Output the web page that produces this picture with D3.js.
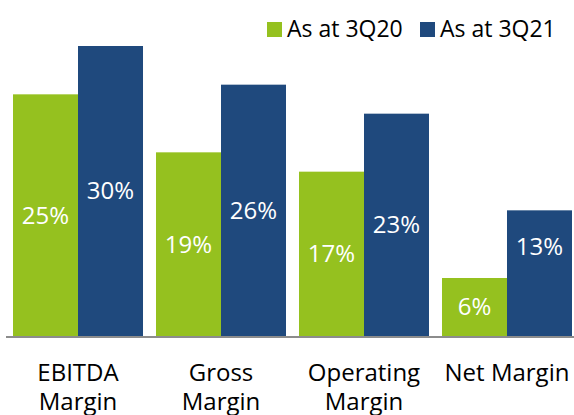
<!DOCTYPE html>
<html>
<head>
<meta charset="utf-8">
<script src="https://cdn.jsdelivr.net/npm/d3@7"></script>
<style>
  html, body { margin: 0; padding: 0; background: #fff; }
  svg { display: block; font-family: "Open Sans", "Noto Sans", sans-serif; }
</style>
</head>
<body>
<svg id="chart" width="574" height="415"></svg>
<script>
const categories = [["EBITDA", "Margin"], ["Gross", "Margin"], ["Operating", "Margin"], ["Net Margin"]];
const seriesNames = ["As at 3Q20", "As at 3Q21"];
const values3Q20 = [25, 19, 17, 6];
const values3Q21 = [30, 26, 23, 13];
const colors = ["#95C11F", "#1F497D"];

const svg = d3.select("#chart");
const W = 574, H = 415;
const baseY = 336;

const catKeys = categories.map(c => c.join(" "));
const x0 = d3.scaleBand().domain(catKeys).range([6.5, 578.5]).paddingInner(0.0909).paddingOuter(0.0455);
const x1 = d3.scaleBand().domain(seriesNames).range([0, x0.bandwidth()]).padding(0);
const maxV = d3.max(values3Q21.concat(values3Q20));
const y = d3.scaleLinear().domain([0, maxV]).range([baseY, 46]);

const data = catKeys.map((k, i) => ({
  key: k,
  vals: [
    { s: seriesNames[0], v: values3Q20[i], c: colors[0], i: i },
    { s: seriesNames[1], v: values3Q21[i], c: colors[1], i: i }
  ]
}));

const g = svg.append("g").selectAll("g").data(data).join("g")
  .attr("transform", d => `translate(${x0(d.key)},0)`);

g.selectAll("rect").data(d => d.vals).join("rect")
  .attr("x", d => x1(d.s))
  .attr("y", d => y(d.v))
  .attr("width", x1.bandwidth())
  .attr("height", d => y(0) - y(d.v))
  .attr("fill", d => d.c);

// value labels (the 13% label in the reference sits higher inside its bar)
g.selectAll("text.val").data(d => d.vals).join("text")
  .attr("class", "val")
  .attr("x", d => x1(d.s) + x1.bandwidth() / 2)
  .attr("y", d => {
    const top = y(d.v), bot = y(0);
    const frac = (d.s === seriesNames[1] && d.i === 3) ? 0.29 : 0.5;
    return top + (bot - top) * frac;
  })
  .attr("dy", "0.35em")
  .attr("text-anchor", "middle")
  .attr("fill", "#fff")
  .attr("font-size", 24)
  .text(d => d.v + "%");

// baseline axis
const xAxis = d3.axisBottom(x0).tickSize(0).tickFormat("");
const axG = svg.append("g").attr("transform", `translate(0,${baseY + 1})`).call(xAxis);
axG.select(".domain").attr("d", `M6,0H${W}`).attr("stroke", "#8c8c8c").attr("stroke-width", 2);

// category labels
categories.forEach((lines, i) => {
  const cx = x0(catKeys[i]) + x0.bandwidth() / 2;
  const t = svg.append("text")
    .attr("x", cx).attr("y", 381)
    .attr("text-anchor", "middle")
    .attr("font-size", 24)
    .attr("fill", "#000");
  lines.forEach((ln, j) => {
    t.append("tspan").attr("x", cx).attr("y", 381 + j * 29).text(ln);
  });
});

// legend
const legendItems = [{ name: seriesNames[0], c: colors[0], x: 267 }, { name: seriesNames[1], c: colors[1], x: 420 }];
const lg = svg.append("g");
legendItems.forEach(it => {
  lg.append("rect").attr("x", it.x).attr("y", 22).attr("width", 15).attr("height", 15).attr("fill", it.c);
  lg.append("text").attr("x", it.x + 20).attr("y", 37).attr("font-size", 23).attr("fill", "#000").text(it.name);
});
</script>
</body>
</html>
